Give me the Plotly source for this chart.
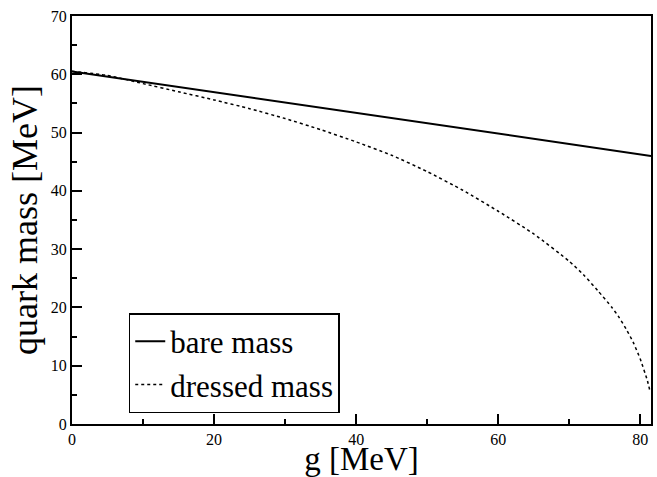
import plotly.graph_objects as go

# Data
g_bare = [0.0, 81.5]
m_bare = [60.5, 46.0]

g_dressed = [0, 5, 10, 15, 20, 25, 30, 35, 40, 45, 50, 55, 60, 65, 70, 72, 74, 76, 77, 78, 79, 80, 81, 81.4]
m_dressed = [60.5, 59.8, 58.4, 57.0, 55.6, 54.1, 52.4, 50.5, 48.4, 46.1, 43.3, 40.1, 36.5, 32.6, 27.9, 25.6,
             22.9, 20.0, 18.3, 16.3, 14.0, 11.1, 7.4, 5.4]

FONT = "Liberation Serif"

fig = go.Figure()
fig.add_trace(go.Scatter(x=g_bare, y=m_bare, mode="lines", name="bare mass",
                         line=dict(color="black", width=2)))
fig.add_trace(go.Scatter(x=g_dressed, y=m_dressed, mode="lines", name="dressed mass",
                         line=dict(color="black", width=1.5, dash="dot", shape="spline", smoothing=0.6)))

axis_common = dict(showline=True, linecolor="black", linewidth=2, mirror=True,
                   showgrid=False, zeroline=False, ticks="inside", ticklen=10,
                   tickwidth=1.5, tickcolor="black", automargin=False,
                   tickfont=dict(family=FONT, size=16, color="black"))

fig.update_xaxes(range=[0, 81.5], dtick=20, tick0=0,
                 minor=dict(dtick=10, ticks="inside", ticklen=5, tickcolor="black", tickwidth=1.5),
                 title=dict(text="g [MeV]", font=dict(family=FONT, size=33, color="black"), standoff=4),
                 **axis_common)
fig.update_yaxes(range=[0, 70], dtick=10, tick0=0,
                 minor=dict(dtick=5, ticks="inside", ticklen=5, tickcolor="black", tickwidth=1.5),
                 title=dict(text="quark mass [MeV]", font=dict(family=FONT, size=36, color="black"), standoff=2),
                 **axis_common)

fig.update_layout(
    width=657, height=477,
    margin=dict(l=72, r=6, t=16, b=53),
    paper_bgcolor="white", plot_bgcolor="white",
    font=dict(family=FONT, color="black"),
    legend=dict(x=0.098, y=0.272, xanchor="left", yanchor="top",
                bgcolor="white", bordercolor="black", borderwidth=1.5,
                font=dict(family=FONT, size=31, color="black"),
                itemwidth=30, tracegroupgap=0),
)

fig.write_html("out.html")
